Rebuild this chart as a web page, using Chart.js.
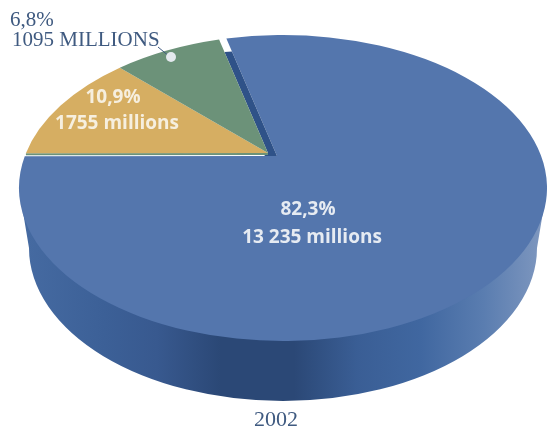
<!DOCTYPE html>
<html>
<head>
<meta charset="utf-8">
<script src="https://cdn.jsdelivr.net/npm/chart.js@4/dist/chart.umd.js"></script>
<style>
    body { margin: 0; background: #fff; }
    canvas { display: block; }
</style>
</head>
<body>
<canvas id="pie" width="549" height="432"></canvas>
<script>
// Data
const categories = ['Groupe A', 'Groupe B', 'Groupe C'];
const seriesValues = [13235, 1755, 1095];
const shareLabels = ['82,3%', '10,9%', '6,8%'];
const amountLabels = ['13 235 millions', '1755 millions', '1095 MILLIONS'];
const yearLabel = '2002';
const sliceColors = ['#5476ad', '#d6ae62', '#6c9279'];

// --- DISC GEOMETRY ---
const top_ = { x: 283, y: 188, rx: 264, ry: 153 };   // upper rim
const low = { x: 283, y: 248, rx: 254, ry: 153 };    // lower rim
const hub = { x: 268, y: 153 };                      // where the small slices meet
const blueHub = { x: 277, y: 156 };                  // main slice sits slightly apart
const skewA = 1.785, skewS = 0.451;                  // tilt of the disc seen from above

// Angle on the flat pie -> point on the tilted rim, seen from a given hub
function rimAngle(angle, from) {
    const a = angle + Math.PI / 2;
    const dx = skewA * Math.sin(a) + skewS * Math.cos(a);
    const dy = -Math.cos(a);
    const px = (from.x - top_.x) / top_.rx, py = (from.y - top_.y) / top_.ry;
    const qx = dx / top_.rx, qy = dy / top_.ry;
    const A = qx * qx + qy * qy, B = 2 * (px * qx + py * qy), C = px * px + py * py - 1;
    const s = (-B + Math.sqrt(B * B - 4 * A * C)) / (2 * A);
    return Math.atan2(py + s * qy, px + s * qx);
}

function rimPoint(t) {
    return { x: top_.x + top_.rx * Math.cos(t), y: top_.y + top_.ry * Math.sin(t) };
}

function along(from, to, f) {
    return { x: from.x + (to.x - from.x) * f, y: from.y + (to.y - from.y) * f };
}

function drawSlice(ctx, arc, color, from) {
    ctx.beginPath();
    ctx.moveTo(from.x, from.y);
    ctx.ellipse(top_.x, top_.y, top_.rx, top_.ry, 0,
        rimAngle(arc.startAngle, from), rimAngle(arc.endAngle, from), false);
    ctx.closePath();
    ctx.fillStyle = color;
    ctx.fill();
}

function drawWall(ctx) {
    const g = ctx.createLinearGradient(20, 0, 547, 0);
    g.addColorStop(0, '#466ba2');
    g.addColorStop(0.16, '#3c6097');
    g.addColorStop(0.26, '#38598f');
    g.addColorStop(0.38, '#2b4876');
    g.addColorStop(0.52, '#2b4876');
    g.addColorStop(0.64, '#3a5e95');
    g.addColorStop(0.76, '#4067a0');
    g.addColorStop(0.88, '#5a7db0');
    g.addColorStop(1, '#8199c0');
    ctx.beginPath();
    ctx.moveTo(top_.x - top_.rx, top_.y);
    ctx.lineTo(low.x - low.rx, low.y);
    ctx.ellipse(low.x, low.y, low.rx, low.ry, 0, Math.PI, 0, true);
    ctx.lineTo(top_.x + top_.rx, top_.y);
    ctx.closePath();
    ctx.fillStyle = g;
    ctx.fill();
}

function drawText(ctx) {
    ctx.textAlign = 'center';
    ctx.textBaseline = 'middle';
    ctx.fillStyle = '#e6ebf2';
    ctx.font = '700 19px "Open Sans"';
    ctx.fillText(shareLabels[0], 308, 210);
    ctx.fillText(amountLabels[0], 312, 238);
    ctx.fillStyle = '#f6efdf';
    ctx.fillText(shareLabels[1], 113, 98);
    ctx.fillText(amountLabels[1], 117, 124);

    // outside label with its leader
    ctx.fillStyle = '#3f5a80';
    ctx.font = '21px "Liberation Serif"';
    ctx.textAlign = 'left';
    ctx.fillText(shareLabels[2], 10, 20);
    ctx.fillText(amountLabels[2], 12, 40);
    ctx.textAlign = 'center';
    ctx.font = '22px "Liberation Serif"';
    ctx.fillText(yearLabel, 276, 420);

    ctx.strokeStyle = '#3f5a80';
    ctx.lineWidth = 1;
    ctx.beginPath();
    ctx.moveTo(158, 47);
    ctx.lineTo(170, 57);
    ctx.stroke();
    ctx.fillStyle = '#e4e9ee';
    ctx.beginPath();
    ctx.arc(171, 57, 5, 0, Math.PI * 2);
    ctx.fill();
}

// Replaces the flat arcs with the tilted disc, using the angles Chart.js computed
const tiltedDisc = {
    id: 'tiltedDisc',
    beforeDatasetsDraw(chart) {
        const ctx = chart.ctx;
        const arcs = chart.getDatasetMeta(0).data;
        ctx.save();
        drawWall(ctx);
        drawSlice(ctx, arcs[0], sliceColors[0], blueHub);

        // shadowed cut between the main slice and the small ones
        const inner = along(hub, rimPoint(rimAngle(arcs[2].endAngle, hub)), 0.89);
        const outer = along(blueHub, rimPoint(rimAngle(arcs[2].endAngle, blueHub)), 0.89);
        ctx.beginPath();
        ctx.moveTo(blueHub.x, blueHub.y);
        ctx.lineTo(outer.x, outer.y);
        ctx.lineTo(inner.x, inner.y);
        ctx.lineTo(hub.x, hub.y);
        ctx.lineTo(hub.x - 4, blueHub.y);
        ctx.closePath();
        ctx.fillStyle = '#2f5288';
        ctx.fill();

        // thin seam under the lower small slice
        const s = rimPoint(rimAngle(arcs[1].startAngle, hub));
        ctx.beginPath();
        ctx.moveTo(hub.x, hub.y + 1);
        ctx.lineTo(s.x, s.y + 1);
        ctx.strokeStyle = sliceColors[2];
        ctx.lineWidth = 2;
        ctx.stroke();

        drawSlice(ctx, arcs[1], sliceColors[1], hub);
        drawSlice(ctx, arcs[2], sliceColors[2], hub);
        drawText(ctx);
        ctx.restore();
        return false;
    }
};

new Chart(document.getElementById('pie'), {
    type: 'pie',
    data: {
        labels: categories,
        datasets: [{ data: seriesValues, backgroundColor: sliceColors, borderWidth: 0 }]
    },
    options: {
        responsive: false,
        animation: false,
        rotation: -26.3,
        plugins: { legend: { display: false }, tooltip: { enabled: false } }
    },
    plugins: [tiltedDisc]
});
</script>
</body>
</html>
